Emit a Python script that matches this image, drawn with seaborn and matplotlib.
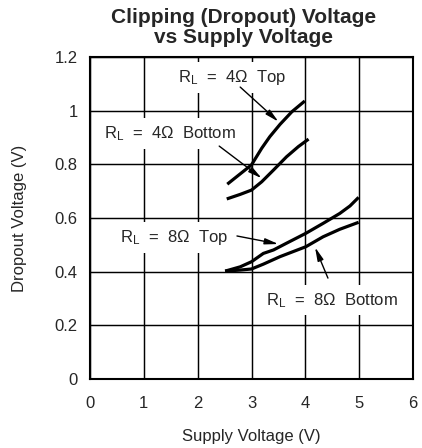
import matplotlib
matplotlib.use("Agg")
import matplotlib.pyplot as plt
import seaborn as sns
import pandas as pd

# Clipping (dropout) voltage curves, read per load / rail
v_supply_4_top = [2.55, 3.00, 3.19, 3.34, 3.53, 3.75, 3.99]
v_drop_4_top = [0.726, 0.798, 0.860, 0.903, 0.949, 0.996, 1.036]

v_supply_4_bottom = [2.54, 2.79, 3.00, 3.19, 3.41, 3.65, 3.87, 4.06]
v_drop_4_bottom = [0.671, 0.688, 0.704, 0.735, 0.779, 0.828, 0.866, 0.894]

v_supply_8_top = [2.51, 2.79, 3.00, 3.22, 3.41, 3.65, 4.01, 4.33, 4.64, 4.83, 4.99]
v_drop_8_top = [0.402, 0.418, 0.437, 0.468, 0.481, 0.506, 0.543, 0.580, 0.617, 0.645, 0.677]

v_supply_8_bottom = [2.51, 2.79, 3.00, 3.22, 3.53, 4.01, 4.33, 4.64, 4.99]
v_drop_8_bottom = [0.402, 0.406, 0.410, 0.428, 0.456, 0.493, 0.530, 0.558, 0.584]

curve_names = ["4Ω Top", "4Ω Bottom", "8Ω Top", "8Ω Bottom"]
x_ticks = [0, 1, 2, 3, 4, 5, 6]
y_ticks = [0, 0.2, 0.4, 0.6, 0.8, 1.0, 1.2]
y_tick_labels = ["0", "0.2", "0.4", "0.6", "0.8", "1", "1.2"]

frames = []
for name, xs, ys in zip(curve_names,
                        [v_supply_4_top, v_supply_4_bottom, v_supply_8_top, v_supply_8_bottom],
                        [v_drop_4_top, v_drop_4_bottom, v_drop_8_top, v_drop_8_bottom]):
    frames.append(pd.DataFrame({"supply": xs, "dropout": ys, "curve": name}))
df = pd.concat(frames, ignore_index=True)

sns.set_style("white")
plt.rcParams["font.family"] = ["Liberation Sans", "DejaVu Sans"]
plt.rcParams["mathtext.fontset"] = "custom"
plt.rcParams["mathtext.rm"] = "Liberation Sans"
plt.rcParams["mathtext.it"] = "Liberation Sans"

fig = plt.figure(figsize=(4.22, 4.48), dpi=100)
ax = fig.add_axes([90 / 422, 1 - 379 / 448, 323 / 422, 322 / 448])

sns.lineplot(data=df, x="supply", y="dropout", hue="curve", units="curve",
             estimator=None, sort=False, palette=["black"] * 4, legend=False,
             linewidth=2.3, ax=ax, zorder=4, solid_capstyle="butt")

ax.set_xlim(0, 6)
ax.set_ylim(0, 1.2)
ax.set_xticks(x_ticks)
ax.set_yticks(y_ticks)
ax.set_yticklabels(y_tick_labels)
ax.tick_params(axis="both", length=0, labelsize=12)
ax.tick_params(axis="x", pad=12)
ax.tick_params(axis="y", pad=9)
ax.grid(True, color="black", linewidth=1.05)
ax.set_axisbelow(True)
for sp in ax.spines.values():
    sp.set_visible(True)
    sp.set_color("black")
    sp.set_linewidth(1.5)
    sp.set_zorder(5)

ax.set_xlabel("Supply Voltage (V)", fontsize=12)
ax.set_ylabel("Dropout Voltage (V)", fontsize=12)
ax.xaxis.set_label_coords(0.5, -0.18)
ax.xaxis.label.set_verticalalignment("center")
ax.yaxis.set_label_coords(-0.217, 0.5)
ax.yaxis.label.set_verticalalignment("center")

# curve labels on white boxes, with arrows to their curves
labels = [
    (r"R$_{\mathrm{L}}$  =  4Ω  Top", (2.64, 1.107), (2.79, 1.088), (3.50, 0.959)),
    (r"R$_{\mathrm{L}}$  =  4Ω  Bottom", (1.49, 0.898), (2.40, 0.868), (3.19, 0.748)),
    (r"R$_{\mathrm{L}}$  =  8Ω  Top", (1.56, 0.511), (2.73, 0.533), (3.50, 0.503)),
    (r"R$_{\mathrm{L}}$  =  8Ω  Bottom", (4.50, 0.276), (4.42, 0.376), (4.18, 0.491)),
]
for text, pos, start, tip in labels:
    ax.text(pos[0], pos[1], text, ha="center", va="baseline", fontsize=12,
            zorder=3, bbox=dict(boxstyle="square,pad=0.35", fc="white", ec="none"))
    ax.annotate("", xy=tip, xytext=start, zorder=4,
                arrowprops=dict(arrowstyle="-|>,head_length=0.8,head_width=0.18",
                                color="black", lw=1.0, mutation_scale=10,
                                shrinkA=0, shrinkB=0))

fig.text(244 / 422, 1 - 23 / 448, "Clipping (Dropout) Voltage", ha="center",
         va="baseline", fontsize=15, fontweight="bold")
fig.text(244 / 422, 1 - 43 / 448, "vs Supply Voltage", ha="center",
         va="baseline", fontsize=15, fontweight="bold")

fig.savefig("out.png", dpi=100)
